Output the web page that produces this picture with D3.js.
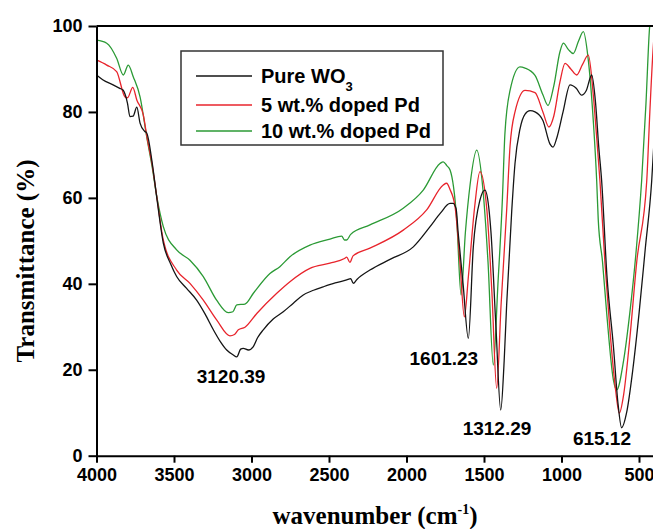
<!DOCTYPE html>
<html>
<head>
<meta charset="utf-8">
<script src="https://cdn.jsdelivr.net/npm/d3@7"></script>
<style>
  body { margin: 0; background: #fff; }
  text { font-family: "Liberation Sans", Arial, sans-serif; font-weight: bold; }
</style>
</head>
<body>
<svg class="ftir-chart" width="653" height="529"></svg>
<script>
// wavenumber (cm-1) / transmittance (%)
var pureWn = [4000, 3960, 3893, 3850, 3829, 3800, 3784, 3764, 3740, 3719, 3690, 3676, 3640, 3612, 3569, 3520, 3483, 3420, 3354, 3300, 3246, 3200, 3160, 3120, 3095, 3070, 3053, 3020, 2988, 2960, 2924, 2860, 2795, 2730, 2666, 2600, 2537, 2460, 2386, 2360, 2343, 2320, 2236, 2100, 1956, 1848, 1780, 1719, 1700, 1680, 1667, 1635, 1601, 1569, 1526, 1494, 1470, 1455, 1423, 1392, 1370, 1354, 1321, 1300, 1268, 1235, 1203, 1171, 1120, 1074, 1055, 1030, 990, 945, 905, 870, 840, 805, 780, 760, 741, 707, 665, 635, 612, 580, 540, 500, 460, 418, 400];
var pureT = [88.6, 87.5, 86.3, 85.5, 85.1, 82.0, 78.9, 79.0, 81.1, 77.4, 75.5, 75.1, 68.0, 60.3, 49.5, 44.5, 41.7, 39.0, 36.2, 33.0, 29.3, 26.5, 24.6, 23.5, 23.0, 24.8, 25.0, 24.6, 25.4, 27.5, 29.3, 31.8, 33.5, 35.5, 37.4, 38.5, 39.3, 40.2, 40.9, 41.2, 40.1, 41.0, 43.2, 45.8, 48.6, 53.3, 56.5, 58.7, 58.7, 57.5, 52.0, 40.0, 27.3, 48.6, 59.5, 61.8, 58.0, 52.0, 30.0, 10.6, 22.0, 35.0, 57.0, 68.0, 76.0, 79.5, 80.3, 80.0, 78.0, 72.5, 71.8, 74.0, 80.0, 86.3, 85.5, 83.9, 85.0, 88.6, 82.0, 72.0, 64.0, 42.0, 25.4, 12.0, 6.5, 10.0, 20.0, 33.0, 48.0, 64.0, 75.0];

var pd5Wn = [4000, 3934, 3870, 3816, 3800, 3766, 3740, 3698, 3676, 3640, 3612, 3569, 3483, 3397, 3311, 3225, 3139, 3110, 3085, 3042, 2966, 2837, 2752, 2623, 2494, 2400, 2386, 2365, 2345, 2236, 2021, 1870, 1763, 1741, 1720, 1687, 1655, 1627, 1600, 1560, 1526, 1481, 1449, 1418, 1390, 1354, 1332, 1300, 1235, 1171, 1120, 1081, 1050, 1010, 977, 940, 902, 865, 827, 795, 775, 752, 720, 687, 650, 627, 600, 560, 515, 450, 430, 410, 400];
var pd5T = [92.1, 90.9, 89.4, 83.5, 83.3, 85.7, 82.8, 79.3, 74.5, 67.5, 60.5, 50.2, 43.2, 40.1, 36.2, 31.6, 27.9, 28.2, 29.3, 29.9, 33.1, 37.8, 40.5, 43.6, 44.8, 45.9, 46.2, 45.0, 46.5, 48.3, 52.5, 57.2, 63.0, 63.4, 62.0, 58.0, 45.0, 32.3, 42.0, 58.0, 66.1, 57.0, 38.0, 15.7, 35.0, 57.0, 72.0, 80.0, 85.0, 84.5, 80.0, 76.5, 79.0, 87.0, 91.3, 90.0, 88.6, 91.0, 93.2, 84.0, 75.0, 64.0, 45.0, 29.0, 15.0, 9.9, 14.0, 27.0, 45.0, 64.0, 80.0, 94.0, 99.0];

var pd10Wn = [4000, 3934, 3870, 3827, 3795, 3763, 3719, 3676, 3640, 3612, 3569, 3483, 3397, 3311, 3225, 3150, 3120, 3095, 3042, 2988, 2881, 2817, 2752, 2623, 2494, 2418, 2400, 2386, 2360, 2236, 2021, 1892, 1784, 1763, 1740, 1719, 1676, 1648, 1620, 1590, 1547, 1507, 1474, 1440, 1410, 1381, 1365, 1332, 1268, 1235, 1171, 1120, 1087, 1050, 1010, 988, 955, 924, 890, 859, 830, 795, 773, 763, 735, 708, 665, 644, 600, 560, 520, 483, 455, 433, 420];
var pd10T = [96.7, 96.0, 92.5, 88.6, 90.9, 88.2, 83.5, 74.2, 67.0, 60.5, 53.3, 47.9, 45.5, 41.7, 36.2, 33.3, 33.5, 35.1, 35.3, 37.8, 42.4, 44.0, 46.3, 49.0, 50.4, 51.1, 50.2, 50.2, 51.5, 53.7, 57.6, 61.8, 68.0, 68.4, 67.5, 66.5, 55.0, 37.4, 52.0, 63.0, 71.1, 62.0, 45.0, 21.1, 40.0, 60.0, 75.0, 85.0, 90.5, 90.2, 88.5, 84.0, 81.5, 86.0, 94.0, 96.0, 94.5, 93.6, 96.5, 98.7, 93.0, 78.0, 64.0, 55.0, 45.0, 33.0, 17.6, 15.3, 22.0, 33.0, 47.0, 64.0, 82.0, 99.0, 104.0];

var seriesNames = ['Pure WO', '5 wt.% doped Pd', '10 wt.% doped Pd'];
var seriesColors = ['#151515', '#e8242c', '#2b9a35'];

var xTicks = [4000, 3500, 3000, 2500, 2000, 1500, 1000, 500];
var yTicks = [0, 20, 40, 60, 80, 100];

var peakLabels = ['3120.39', '1601.23', '1312.29', '615.12'];
var peakLabelWn = [3132, 1759, 1416, 739];
var peakLabelT = [16.9, 21.1, 4.8, 2.5];

drawChart();

function drawChart() {
  var svg = d3.select('.ftir-chart');
  var left = 96.5, right = 654.5, top = 26, bottom = 455.7;

  var x = d3.scaleLinear().domain([4000, 400]).range([left, right]);
  var y = d3.scaleLinear().domain([0, 100]).range([bottom, top]);

  svg.append('defs').append('clipPath').attr('id', 'plot-clip')
    .append('rect')
    .attr('x', left).attr('y', top)
    .attr('width', 700 - left).attr('height', bottom - top);

  var series = [
    {wn: pureWn, t: pureT},
    {wn: pd5Wn, t: pd5T},
    {wn: pd10Wn, t: pd10T}
  ];

  var line = d3.line()
    .x(function(d) { return x(d[0]); })
    .y(function(d) { return y(d[1]); })
    .curve(d3.curveMonotoneX);

  var plot = svg.append('g').attr('clip-path', 'url(#plot-clip)');
  // green first so black ends up on top
  [2, 1, 0].forEach(function(i) {
    var pts = series[i].wn.map(function(w, j) { return [w, series[i].t[j]]; });
    plot.append('path')
      .datum(pts)
      .attr('fill', 'none')
      .attr('stroke', seriesColors[i])
      .attr('stroke-width', 1.3)
      .attr('d', line);
  });

  // axes
  var xAxis = svg.append('g')
    .attr('transform', 'translate(0,' + bottom + ')')
    .call(d3.axisBottom(x).tickValues(xTicks).tickFormat(d3.format('d'))
      .tickSize(7).tickPadding(6).tickSizeOuter(0));
  var yAxis = svg.append('g')
    .attr('transform', 'translate(' + left + ',0)')
    .call(d3.axisLeft(y).tickValues(yTicks).tickFormat(d3.format('d'))
      .tickSize(8).tickPadding(6).tickSizeOuter(0));

  [xAxis, yAxis].forEach(function(a) {
    a.select('.domain').attr('stroke', '#000').attr('stroke-width', 2);
    a.selectAll('.tick line').attr('stroke', '#000').attr('stroke-width', 2);
    a.selectAll('.tick text')
      .attr('fill', '#000')
      .style('font-size', '18px')
      .style('font-family', '"Liberation Sans", Arial, sans-serif')
      .style('font-weight', 'bold');
  });

  // top frame line
  svg.append('line')
    .attr('x1', left).attr('x2', 660)
    .attr('y1', top).attr('y2', top)
    .attr('stroke', '#000').attr('stroke-width', 2);

  // peak labels
  svg.selectAll('.peak')
    .data(peakLabels)
    .enter().append('text')
    .attr('class', 'peak')
    .attr('x', function(d, i) { return x(peakLabelWn[i]); })
    .attr('y', function(d, i) { return y(peakLabelT[i]); })
    .attr('text-anchor', 'middle')
    .style('font-size', '19px')
    .text(function(d) { return d; });

  // legend
  var lg = svg.append('g');
  lg.append('rect')
    .attr('x', 181).attr('y', 51)
    .attr('width', 262).attr('height', 94)
    .attr('fill', '#fff')
    .attr('stroke', '#333').attr('stroke-width', 1.5);
  var rowY = [76, 105, 131];
  seriesNames.forEach(function(name, i) {
    lg.append('line')
      .attr('x1', 196).attr('x2', 252)
      .attr('y1', rowY[i]).attr('y2', rowY[i])
      .attr('stroke', seriesColors[i]).attr('stroke-width', 1.3);
    var t = lg.append('text')
      .attr('x', 261).attr('y', rowY[i] + 7)
      .style('font-size', '20px')
      .text(name);
    if (i === 0) {
      t.append('tspan').attr('dy', 8).style('font-size', '13px').text('3');
    }
  });

  // axis titles
  svg.append('text')
    .attr('transform', 'translate(34,261) rotate(-90)')
    .attr('text-anchor', 'middle')
    .style('font-family', '"Liberation Serif", "Times New Roman", serif')
    .style('font-size', '25px')
    .text('Transmittance (%)');

  var xt = svg.append('text')
    .attr('x', 375).attr('y', 524)
    .attr('text-anchor', 'middle')
    .style('font-family', '"Liberation Serif", "Times New Roman", serif')
    .style('font-size', '25px');
  xt.append('tspan').text('wavenumber (cm');
  xt.append('tspan').attr('dy', -10).style('font-size', '14px').text('-1');
  xt.append('tspan').attr('dy', 10).text(')');
}
</script>
</body>
</html>
